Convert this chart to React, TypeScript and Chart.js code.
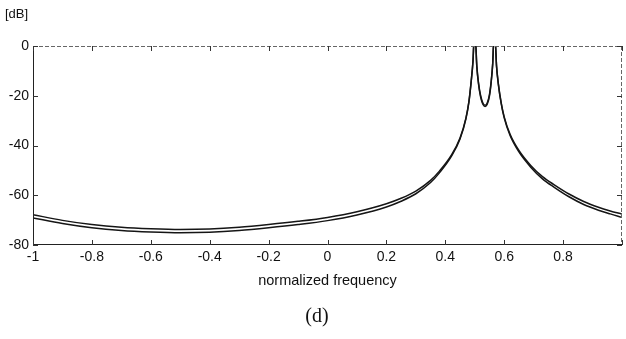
import React, { useEffect, useRef } from "react";
import { Chart, registerables } from "chart.js";

Chart.register(...registerables);

const freq: number[] = [
  -1, -0.9, -0.8, -0.7, -0.6, -0.5, -0.4, -0.3, -0.2, -0.1, 0, 0.1, 0.2, 0.25, 0.3, 0.35, 0.38, 0.42, 0.45,
  0.47, 0.48, 0.488, 0.494, 0.498, 0.502, 0.507, 0.513, 0.52, 0.528, 0.535, 0.542, 0.55, 0.556, 0.561, 0.565,
  0.569, 0.574, 0.58, 0.59, 0.6, 0.62, 0.65, 0.69, 0.73, 0.77, 0.82, 0.87, 0.92, 0.96, 1.0,
];

const upperDb: number[] = [
  -67.8, -70.1, -71.8, -72.9, -73.5, -73.8, -73.6, -72.9, -71.8, -70.5, -68.9, -66.6, -63.4, -61.2, -58.3,
  -54.0, -50.3, -44.0, -37.0, -29, -22.5, -14, -6, 3, 3, -8, -15, -20, -23, -23.8, -23, -19.5, -14, -7, 3, 3,
  -8, -15, -23, -28.5, -35.5, -42, -48, -52.5, -55.8, -59.5, -62.5, -64.8, -66.3, -67.6,
];

const lowerDb: number[] = [
  -69.1, -71.4, -73.1, -74.2, -74.8, -75.1, -74.9, -74.2, -73.1, -71.8, -70.2, -67.9, -64.7, -62.4, -59.4,
  -54.9, -51.0, -44.5, -37.4, -29.3, -22.7, -14.2, -6.2, 3, 3, -8.3, -15.4, -20.5, -23.5, -24.3, -23.5, -20,
  -14.3, -7.2, 3, 3, -8.2, -15.3, -23.3, -28.9, -36, -42.6, -48.7, -53.4, -56.8, -60.6, -63.7, -66.0, -67.5,
  -68.9,
];

const xTicks: number[] = [-1, -0.8, -0.6, -0.4, -0.2, 0, 0.2, 0.4, 0.6, 0.8, 1];
const yTicks: number[] = [0, -20, -40, -60, -80];

const FONT = "'Liberation Sans', Arial, sans-serif";

const boxPlugin = {
  id: "matlabBox",
  afterDatasetsDraw(chart: any) {
    const { ctx, chartArea, scales } = chart;
    const { left, right, top, bottom } = chartArea;
    const xs = scales.x;
    const ys = scales.y;
    const tl = 5;
    ctx.save();
    ctx.strokeStyle = "#666";
    ctx.lineWidth = 1;
    ctx.setLineDash([4, 2]);
    ctx.beginPath();
    ctx.moveTo(left, top + 0.5);
    ctx.lineTo(right, top + 0.5);
    ctx.moveTo(right - 0.5, top);
    ctx.lineTo(right - 0.5, bottom);
    ctx.stroke();
    ctx.setLineDash([]);
    ctx.strokeStyle = "#222";
    ctx.beginPath();
    ctx.moveTo(left + 0.5, top);
    ctx.lineTo(left + 0.5, bottom);
    ctx.moveTo(left, bottom - 0.5);
    ctx.lineTo(right, bottom - 0.5);
    ctx.stroke();
    ctx.strokeStyle = "#333";
    ctx.beginPath();
    for (const v of xTicks) {
      const px = Math.round(xs.getPixelForValue(v)) + 0.5;
      ctx.moveTo(px, bottom);
      ctx.lineTo(px, bottom - tl);
      ctx.moveTo(px, top);
      ctx.lineTo(px, top + tl);
    }
    for (const v of yTicks) {
      const py = Math.round(ys.getPixelForValue(v)) + 0.5;
      ctx.moveTo(left, py);
      ctx.lineTo(left + tl, py);
      ctx.moveTo(right, py);
      ctx.lineTo(right - tl, py);
    }
    ctx.stroke();
    ctx.restore();
  },
};

export default function App() {
  const ref = useRef<HTMLCanvasElement | null>(null);

  useEffect(() => {
    if (!ref.current) return;
    const mk = (arr: number[]) => freq.map((f, i) => ({ x: f, y: arr[i] }));
    const lineStyle = {
      borderColor: "#151515",
      borderWidth: 1.5,
      pointRadius: 0,
      fill: false,
      cubicInterpolationMode: "monotone" as const,
    };
    const chart = new Chart(ref.current, {
      type: "line",
      data: {
        datasets: [
          { label: "upper", data: mk(upperDb), ...lineStyle },
          { label: "lower", data: mk(lowerDb), ...lineStyle },
        ],
      },
      options: {
        animation: false,
        responsive: false,
        layout: { padding: { top: 46, right: 2, left: 0, bottom: 0 } },
        plugins: { legend: { display: false }, tooltip: { enabled: false }, title: { display: false } },
        scales: {
          x: {
            type: "linear",
            min: -1,
            max: 1,
            afterBuildTicks: (s: any) => {
              s.ticks = xTicks.map((v) => ({ value: v }));
            },
            afterFit: (s: any) => {
              s.height = 94;
            },
            grid: { display: false, drawTicks: false },
            border: { display: false },
            ticks: {
              padding: 4,
              color: "#111",
              font: { family: FONT, size: 14 },
              maxRotation: 0,
              autoSkip: false,
              callback: (v: any) => (v === 1 ? "" : String(Math.round(Number(v) * 10) / 10)),
            },
            title: {
              display: true,
              text: "normalized frequency",
              color: "#111",
              font: { family: FONT, size: 14.5 },
              padding: { top: 0, bottom: 49 },
            },
          },
          y: {
            type: "linear",
            min: -80,
            max: 0,
            afterBuildTicks: (s: any) => {
              s.ticks = yTicks.map((v) => ({ value: v }));
            },
            afterFit: (s: any) => {
              s.width = 33;
            },
            grid: { display: false, drawTicks: false },
            border: { display: false },
            ticks: {
              padding: 4,
              color: "#111",
              font: { family: FONT, size: 14 },
              callback: (v: any) => String(v),
            },
          },
        },
      },
      plugins: [boxPlugin],
    });
    return () => chart.destroy();
  }, []);

  return (
    <div style={{ position: "absolute", left: 0, top: 0, width: 626, height: 339, background: "#fff" }}>
      <canvas ref={ref} width={626} height={339} style={{ display: "block", width: 626, height: 339 }} />
      <div
        style={{
          position: "absolute",
          left: 5,
          top: 6,
          fontFamily: FONT,
          fontSize: 13,
          color: "#111",
          lineHeight: "16px",
        }}
      >
        [dB]
      </div>
      <div
        style={{
          position: "absolute",
          left: 0,
          width: 634,
          top: 303,
          textAlign: "center",
          fontFamily: "'Liberation Serif', 'Times New Roman', serif",
          fontSize: 20,
          color: "#111",
          lineHeight: "24px",
        }}
      >
        (d)
      </div>
    </div>
  );
}
